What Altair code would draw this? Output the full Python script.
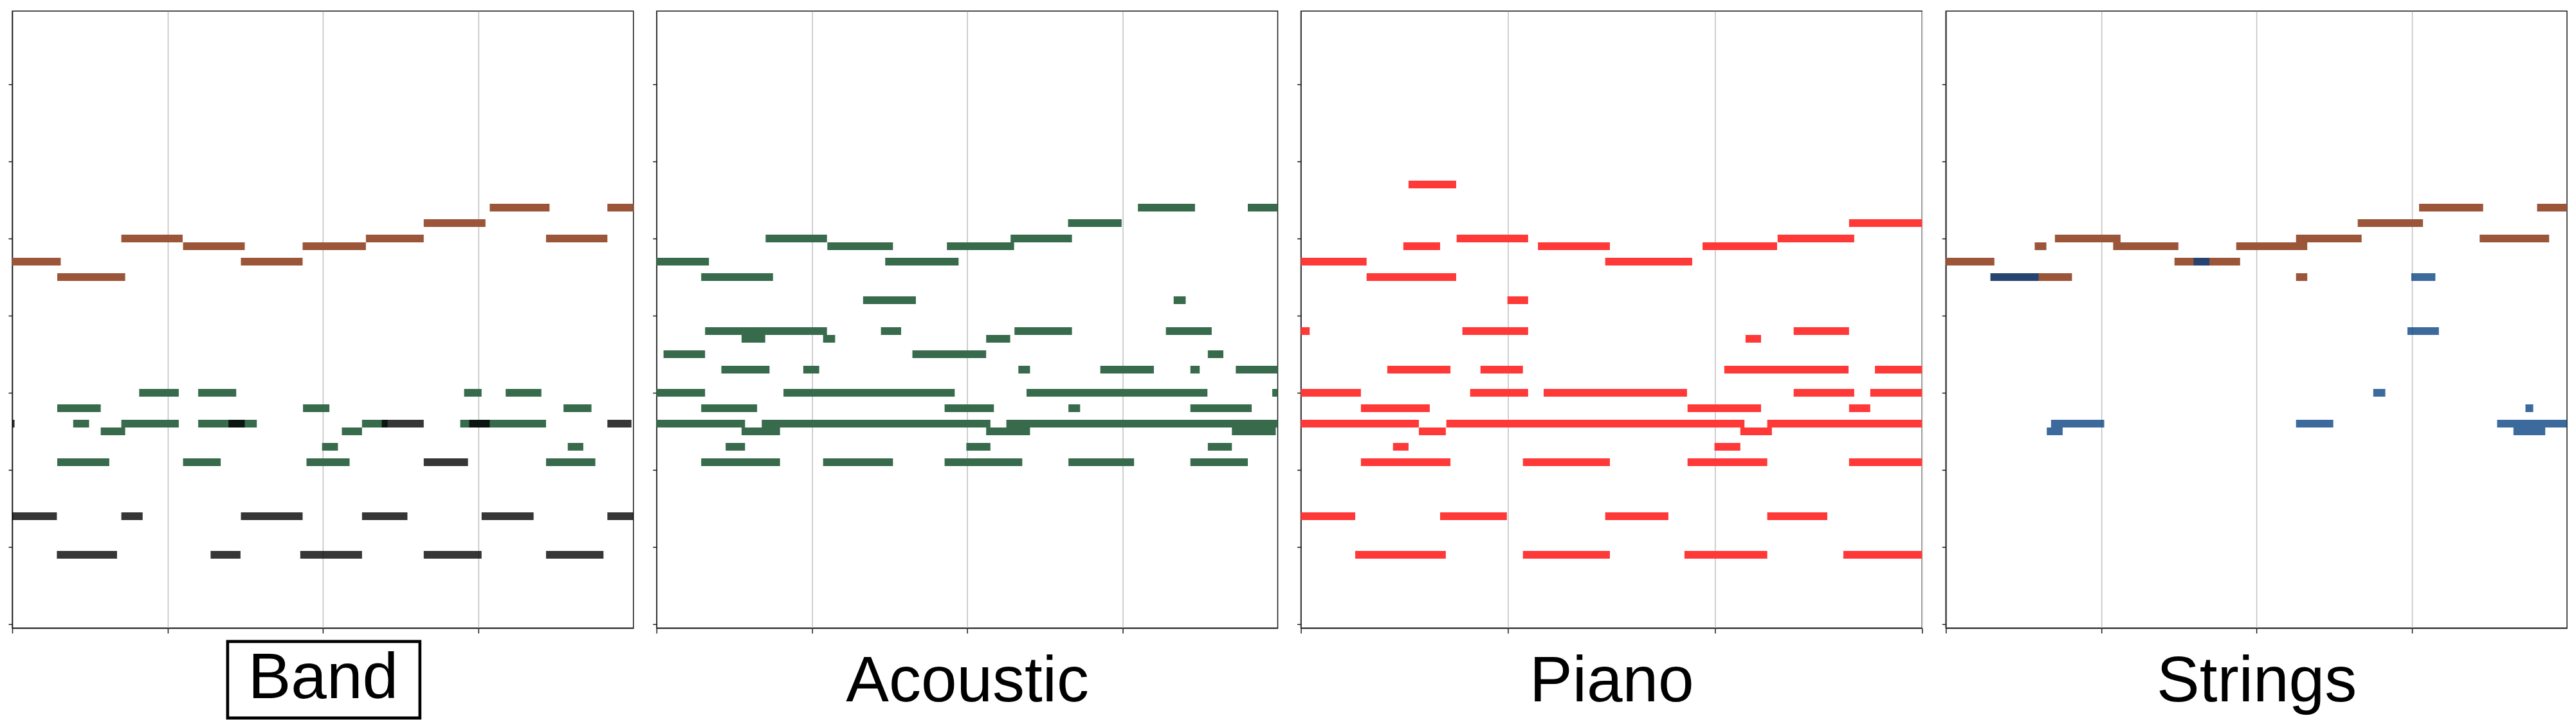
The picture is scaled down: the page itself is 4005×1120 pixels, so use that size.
import altair as alt
import pandas as pd

# ---- note data: (pitch, start_beat, end_beat) ----
BAND_MELODY = [
    (47, 0.00, 1.25), (45, 1.16, 2.91), (50, 2.81, 4.39), (49, 4.40, 5.99),
    (47, 5.89, 7.48), (49, 7.48, 9.11), (50, 9.11, 10.60), (52, 10.60, 12.19),
    (54, 12.30, 13.84), (50, 13.75, 15.33), (54, 15.33, 16.00),
]
BAND_GUITAR = [
    (30, 3.27, 4.29), (30, 4.79, 5.77), (30, 11.64, 12.09), (30, 12.71, 13.63),
    (28, 1.16, 2.28), (28, 7.49, 8.17), (28, 14.20, 14.92),
    (26, 1.57, 1.98), (26, 2.81, 4.29), (26, 4.79, 6.30), (26, 9.01, 9.67), (26, 11.54, 13.75),
    (25, 2.28, 2.91), (25, 8.49, 9.01),
    (23, 7.98, 8.39), (23, 14.31, 14.71),
    (21, 1.16, 2.50), (21, 4.40, 5.37), (21, 7.58, 8.69), (21, 13.75, 15.02),
]
BAND_BASS = [
    (26, 0.00, 0.06), (26, 5.57, 5.99), (26, 9.52, 10.60), (26, 11.77, 12.30), (26, 15.33, 15.95),
    (21, 10.60, 11.74),
    (14, 0.00, 1.15), (14, 2.81, 3.36), (14, 5.89, 7.48), (14, 9.01, 10.18), (14, 12.09, 13.43), (14, 15.33, 16.00),
    (9, 1.15, 2.70), (9, 5.11, 5.88), (9, 7.42, 9.01), (9, 10.60, 12.09), (9, 13.75, 15.23),
]
ACOUSTIC = [
    (54, 12.40, 13.87), (54, 15.23, 16.00),
    (52, 10.60, 11.98),
    (50, 2.81, 4.39), (50, 9.12, 10.70),
    (49, 4.40, 6.09), (49, 7.48, 9.21),
    (47, 0.00, 1.35), (47, 5.89, 7.78),
    (45, 1.15, 3.00),
    (42, 5.32, 6.68), (42, 13.32, 13.63),
    (38, 1.25, 4.39), (38, 5.78, 6.30), (38, 9.22, 10.70), (38, 13.12, 14.30),
    (37, 2.19, 2.80), (37, 4.29, 4.60), (37, 8.49, 9.11),
    (35, 0.18, 1.25), (35, 6.59, 8.49), (35, 14.20, 14.60),
    (33, 1.67, 2.91), (33, 3.78, 4.19), (33, 9.32, 9.62), (33, 11.43, 12.81), (33, 13.75, 13.99), (33, 14.92, 16.00),
    (30, 0.00, 1.25), (30, 3.27, 7.68), (30, 9.53, 14.19), (30, 15.86, 16.00),
    (28, 1.15, 2.59), (28, 7.42, 8.69), (28, 10.61, 10.91), (28, 13.75, 15.33),
    (26, 0.00, 2.28), (26, 2.71, 8.60), (26, 9.01, 16.00),
    (25, 2.19, 3.18), (25, 8.49, 9.62), (25, 14.82, 15.95),
    (23, 1.78, 2.28), (23, 7.98, 8.60), (23, 14.20, 14.82),
    (21, 1.15, 3.18), (21, 4.29, 6.09), (21, 7.42, 9.42), (21, 10.61, 12.30), (21, 13.75, 15.23),
]
PIANO = [
    (57, 2.08, 3.00),
    (52, 10.59, 12.00),
    (50, 3.01, 4.39), (50, 9.21, 10.69),
    (49, 1.98, 2.69), (49, 4.58, 5.97), (49, 7.76, 9.20),
    (47, 0.00, 1.27), (47, 5.88, 7.56),
    (45, 1.27, 3.00),
    (42, 3.99, 4.39),
    (38, 0.00, 0.17), (38, 3.12, 4.39), (38, 9.52, 10.59),
    (37, 8.59, 8.89),
    (33, 1.67, 2.89), (33, 3.47, 4.29), (33, 8.18, 10.58), (33, 11.09, 12.00),
    (30, 0.00, 1.16), (30, 3.27, 4.39), (30, 4.69, 7.46), (30, 9.52, 10.69), (30, 11.00, 12.00),
    (28, 1.16, 2.49), (28, 7.47, 8.89), (28, 10.59, 11.00),
    (26, 0.00, 2.28), (26, 2.81, 8.57), (26, 9.01, 12.00),
    (25, 2.28, 2.80), (25, 8.49, 9.10),
    (23, 1.78, 2.08), (23, 7.99, 8.49),
    (21, 1.16, 2.89), (21, 4.29, 5.97), (21, 7.47, 9.01), (21, 10.59, 12.00),
    (14, 0.00, 1.05), (14, 2.69, 3.98), (14, 5.88, 7.10), (14, 9.01, 10.17),
    (9, 1.05, 2.80), (9, 4.29, 5.97), (9, 7.41, 9.01), (9, 10.48, 12.00),
]
STRINGS_MELODY = [
    (54, 12.19, 13.84), (54, 15.23, 16.00),
    (52, 10.61, 12.29),
    (50, 2.81, 4.50), (50, 9.02, 10.71), (50, 13.75, 15.54),
    (49, 2.29, 2.59), (49, 4.31, 5.99), (49, 7.48, 9.31),
    (47, 0.00, 1.25), (47, 5.89, 7.58),
    (45, 1.15, 3.25), (45, 9.02, 9.31),
]
STRINGS_LOW = [
    (47, 6.38, 6.79),
    (45, 1.15, 2.39), (45, 11.99, 12.61),
    (38, 11.89, 12.70),
    (30, 11.01, 11.32),
    (28, 14.93, 15.13),
    (26, 2.71, 4.08), (26, 9.02, 9.98), (26, 14.20, 16.00),
    (25, 2.60, 3.01), (25, 14.62, 15.44),
]

PANEL_TITLES = ["Band", "Acoustic", "Piano", "Strings"]
PANEL_BEATS = [16, 16, 12, 16]
X_TICKS = [0, 4, 8, 12]
Y_TICKS = [0, 10, 20, 30, 40, 50, 60, 70]

BROWN = "#9b5538"
GREEN = "#376b4c"
BLACK = "#000000"
RED = "#ff3838"
BLUE = "#064081"


def frame(tracks):
    rows = []
    for notes, color, alpha in tracks:
        for p, s, e in notes:
            rows.append({"pitch": p, "start": s, "end": e, "color": color, "alpha": alpha})
    return pd.DataFrame(rows)


PANEL_DATA = [
    frame([(BAND_MELODY, BROWN, 1.0), (BAND_GUITAR, GREEN, 1.0), (BAND_BASS, BLACK, 0.79)]),
    frame([(ACOUSTIC, GREEN, 1.0)]),
    frame([(PIANO, RED, 1.0)]),
    frame([(STRINGS_MELODY, BROWN, 1.0), (STRINGS_LOW, BLUE, 0.78)]),
]
TITLE_PAD = [100, 105, 105, 105]

W, H = 966, 960


def panel(i):
    df = PANEL_DATA[i]
    notes = alt.Chart(df).transform_calculate(
        lo="datum.pitch - 0.5", hi="datum.pitch + 0.5"
    ).mark_rect(strokeWidth=0).encode(
        x=alt.X("start:Q",
                scale=alt.Scale(domain=[0, PANEL_BEATS[i]], nice=False, zero=False),
                axis=alt.Axis(values=X_TICKS, labels=False, grid=True, tickSize=8,
                              title=PANEL_TITLES[i], titlePadding=TITLE_PAD[i])),
        x2="end:Q",
        y=alt.Y("lo:Q",
                scale=alt.Scale(domain=[-0.5, 79.5], nice=False, zero=False),
                axis=alt.Axis(values=Y_TICKS, labels=False, grid=False, tickSize=6, title="")),
        y2="hi:Q",
        color=alt.Color("color:N", scale=None),
        opacity=alt.Opacity("alpha:Q", scale=None),
    ).properties(width=W, height=H)
    if i == 0:
        box = alt.Chart(alt.Data(values=[{"k": 1}])).mark_rect(
            filled=False, stroke="black", strokeWidth=4.6, clip=False
        ).encode(
            x=alt.value(335), x2=alt.value(634),
            y=alt.value(981), y2=alt.value(1100),
        )
        return alt.layer(notes, box)
    return notes


chart = alt.hconcat(*[panel(i) for i in range(4)], spacing=27).properties(
    padding={"left": 3, "top": 8, "right": 5, "bottom": 0},
    background="white",
).configure_view(
    stroke="#1a1a1a", strokeWidth=1.5
).configure_axis(
    domainColor="#1a1a1a", domainWidth=1.5,
    tickColor="#1a1a1a", tickWidth=1.5,
    gridColor="#c4c4c4", gridWidth=1.6,
    titleFont="Liberation Sans", titleFontSize=100, titleFontWeight="normal",
    titleColor="black", titleBaseline="alphabetic",
)

chart.save("out.html", embed_options={"renderer": "svg", "actions": False})
